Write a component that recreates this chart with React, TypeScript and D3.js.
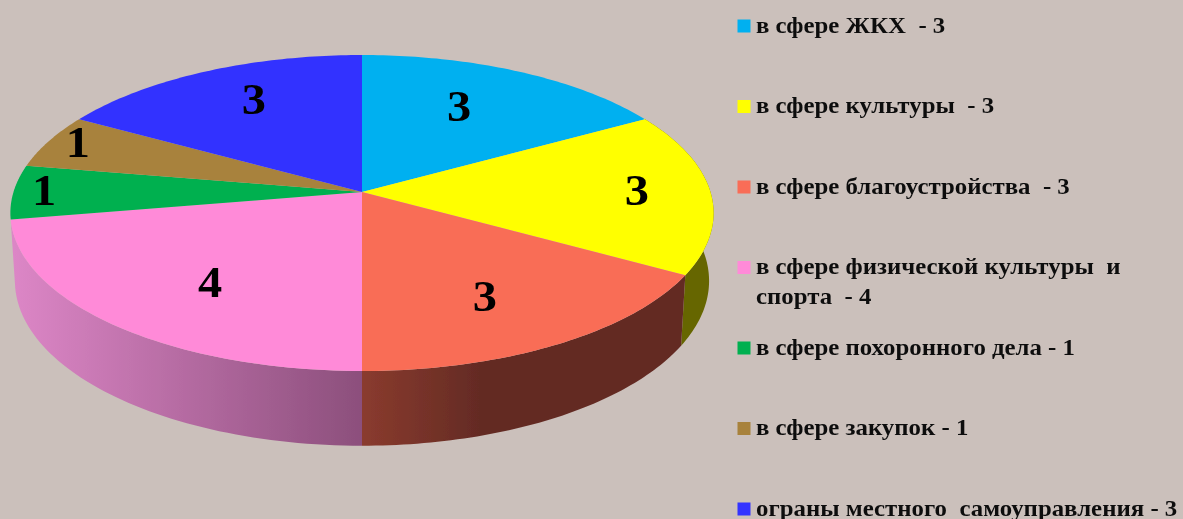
import * as d3 from "d3";

const categories = [
  ["в сфере ЖКХ  - 3"],
  ["в сфере культуры  - 3"],
  ["в сфере благоустройства  - 3"],
  ["в сфере физической культуры  и", "спорта  - 4"],
  ["в сфере похоронного дела - 1"],
  ["в сфере закупок - 1"],
  ["ограны местного  самоуправления - 3"],
];
const values = [3, 3, 3, 4, 1, 1, 3];
const colors = ["#00b0f0", "#ffff00", "#f96d57", "#ff8ad8", "#00b050", "#a8823c", "#3333ff"];

// side wall shading, only the slices that face the viewer
const wallStops: Record<number, string[]> = {
  1: ["#666600", "#666600"],
  2: ["#8a3b2e", "#642b24", "#642b24"],
  3: ["#dc86c6", "#8c4f7c"],
};
const wallRange: Record<number, number[]> = {
  1: [680, 714],
  2: [362, 480, 684],
  3: [14, 362],
};

// where the number sits on each slice: fraction of radius, degrees off the mid angle
const labelRadius = [0.656, 0.789, 0.705, 0.682, 0.912, 0.909, 0.719];
const labelShift = [-2.8, 0, 2.7, -3.7, 0, 0.7, 2.1];

const W = 1183;
const H = 519;

// the pie is tilted with perspective, so the apex is not the ellipse centre
const top = { cx: 362, cy: 192, a: 348.5, b: 155.2, p: 0.133 };
const bottom = { cx: 362, cy: 259, a: 344, b: 161.9, p: 0.133 };

type Disk = typeof top;

const project = (d: Disk, angle: number, r = 1): [number, number] => {
  const u = Math.sin(angle) * r;
  const v = -Math.cos(angle) * r;
  const w = 1 - d.p * v;
  return [d.cx + (d.a * u) / w, d.cy + (d.b * v) / w];
};

const arcPoints = (d: Disk, a0: number, a1: number) =>
  d3.range(0, 61).map((i) => project(d, a0 + ((a1 - a0) * i) / 60));

const line = d3.line();

export default function App() {
  const arcs = d3.pie<number>().sort(null)(values);
  const legendY = d3.scalePoint<number>().domain(d3.range(values.length)).range([26, 509]);

  return (
    <svg
      width={W}
      height={H}
      style={{ position: "absolute", left: 0, top: 0, display: "block" }}
    >
      <defs>
        <filter id="soft" x="-5%" y="-20%" width="110%" height="140%">
          <feGaussianBlur stdDeviation="0.55" />
        </filter>
        <filter id="softPie" x="-2%" y="-2%" width="104%" height="104%">
          <feGaussianBlur stdDeviation="0.45" />
        </filter>
        {Object.keys(wallStops).map((k) => {
          const i = +k;
          const xs = wallRange[i];
          const x = d3.scaleLinear().domain([xs[0], xs[xs.length - 1]]).range([0, 1]);
          return (
            <linearGradient
              key={i}
              id={`wall${i}`}
              gradientUnits="userSpaceOnUse"
              x1={xs[0]}
              x2={xs[xs.length - 1]}
              y1={0}
              y2={0}
            >
              {wallStops[i].map((c, j) => (
                <stop key={j} offset={x(xs[j])} stopColor={c} />
              ))}
            </linearGradient>
          );
        })}
      </defs>
      <rect width={W} height={H} fill="#cbc0bb" />

      <g filter="url(#softPie)">
        {arcs.map((s, i) =>
          wallStops[i] ? (
            <path
              key={i}
              d={
                line([
                  ...arcPoints(top, s.startAngle, s.endAngle),
                  ...arcPoints(bottom, s.endAngle, s.startAngle),
                ]) + "Z"
              }
              fill={`url(#wall${i})`}
            />
          ) : null
        )}

        {arcs.map((s, i) => (
          <path
            key={i}
            d={line([[top.cx, top.cy], ...arcPoints(top, s.startAngle, s.endAngle)]) + "Z"}
            fill={colors[i]}
          />
        ))}

        {arcs.map((s, i) => {
          const mid = (s.startAngle + s.endAngle) / 2 + (labelShift[i] * Math.PI) / 180;
          const [x, y] = project(top, mid, labelRadius[i]);
          return (
            <text
              key={i}
              transform={`translate(${x},${y}) scale(1.1,1)`}
              dy="0.3em"
              textAnchor="middle"
              fontFamily="'Liberation Serif', serif"
              fontWeight="bold"
              fontSize={44}
              fill="#000"
            >
              {s.value}
            </text>
          );
        })}
      </g>

      {categories.map((lines, i) => {
        const y = legendY(i) as number;
        return (
          <g key={i}>
            <rect x={737.5} y={y - 6.5} width={13} height={13} fill={colors[i]} />
            <g filter="url(#soft)">
              {lines.map((t, j) => (
                <text
                  key={j}
                  transform={`translate(756,${y + 6.5 + j * 29.5}) scale(1.035,1)`}
                  xmlSpace="preserve"
                  style={{ whiteSpace: "pre" }}
                  fontFamily="'Liberation Serif', serif"
                  fontWeight="bold"
                  fontSize={24}
                  fill="#111"
                >
                  {t}
                </text>
              ))}
            </g>
          </g>
        );
      })}
    </svg>
  );
}
